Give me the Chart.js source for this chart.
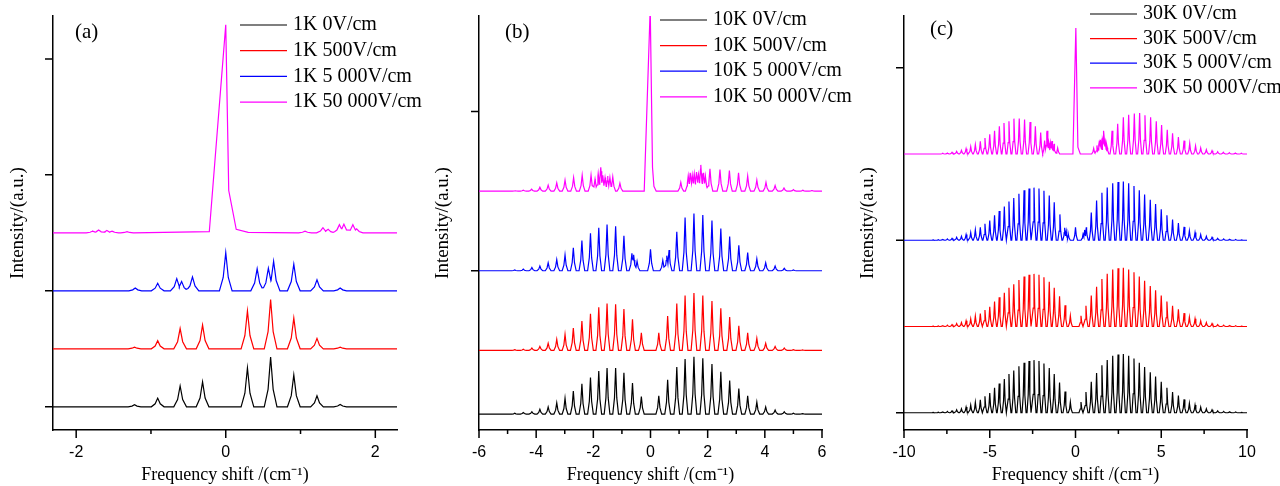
<!DOCTYPE html>
<html>
<head>
<meta charset="utf-8">
<script src="https://cdn.jsdelivr.net/npm/chart.js@4"></script>
<style>
html, body { margin: 0; padding: 0; background: #fff; }
#wrap { position: relative; width: 1280px; height: 486px; }
.panel { position: absolute; top: 0; height: 486px; }
</style>
</head>
<body>
<div id="wrap">
  <div class="panel" style="left:0;width:430px"><canvas id="chartA"></canvas></div>
  <div class="panel" style="left:430px;width:432px"><canvas id="chartB"></canvas></div>
  <div class="panel" style="left:850px;width:430px"><canvas id="chartC"></canvas></div>
</div>
<script>
const colors = ['#000000', '#ff0000', '#0000ff', '#ff00ff'];

// ---- (a) 1K ----
const aLabels = ['1K 0V/cm', '1K 500V/cm', '1K 5 000V/cm', '1K 50 000V/cm'];
const aPos = [-1.22, -0.91, -0.61, -0.31, 0.29, 0.6, 0.91, 1.22, 1.53];
const a0V = [0.035, 0.15, 0.36, 0.43, 0.67, 0.86, 0.55, 0.19, 0.04];
const a500 = [0.03, 0.14, 0.35, 0.41, 0.655, 0.85, 0.53, 0.18, 0.03];
const aPos5k = [-1.21, -0.91, -0.655, -0.59, -0.445, 0.0, 0.42, 0.57, 0.64, 0.91, 1.22, 1.53];
const a5k = [0.05, 0.13, 0.21, 0.16, 0.24, 0.66, 0.38, 0.39, 0.51, 0.46, 0.19, 0.05];
const aPos50k = [-1.78, -1.70, -1.59, -1.52, -1.32, 1.06, 1.30, 1.37, 1.52, 1.58, 1.70, 1.75];
const a50k = [0.03, 0.05, 0.04, 0.03, 0.02, 0.03, 0.09, 0.06, 0.14, 0.15, 0.14, 0.07];
const aCenterX = [-0.22, 0.0, 0.04, 0.14, 0.3];
const aCenterY = [0.02, 3.59, 0.73, 0.06, 0.01];
const aXTicks = [-2, 0, 2];
const aXMinor = [-1, 1];
const aYTicks = [0, 2, 4, 6];

// ---- (b) 10K ----
const bLabels = ['10K 0V/cm', '10K 500V/cm', '10K 5 000V/cm', '10K 50 000V/cm'];
const bPos = [-4.75, -4.45, -4.15, -3.87, -3.58, -3.28, -2.99, -2.7, -2.4, -2.1, -1.81, -1.52, -1.22, -0.93, -0.63, -0.32,
  0.29, 0.6, 0.92, 1.21, 1.52, 1.83, 2.15, 2.46, 2.77, 3.09, 3.4, 3.72, 4.03, 4.36, 4.68, 5.0, 5.32];
const b0V = [0.01, 0.02, 0.03, 0.06, 0.09, 0.14, 0.2, 0.29, 0.38, 0.46, 0.54, 0.58, 0.58, 0.52, 0.39, 0.22,
  0.23, 0.43, 0.59, 0.69, 0.72, 0.70, 0.63, 0.53, 0.42, 0.32, 0.23, 0.15, 0.09, 0.05, 0.03, 0.01, 0.005];
const b500 = [0.01, 0.015, 0.03, 0.05, 0.09, 0.14, 0.2, 0.28, 0.37, 0.46, 0.54, 0.59, 0.58, 0.52, 0.39, 0.22,
  0.22, 0.43, 0.59, 0.69, 0.72, 0.69, 0.62, 0.53, 0.42, 0.31, 0.22, 0.15, 0.09, 0.05, 0.03, 0.01, 0.005];
const bPos5k = [-4.75, -4.45, -4.15, -3.87, -3.58, -3.28, -2.99, -2.7, -2.4, -2.1, -1.81, -1.52, -1.22, -0.93, -0.65, -0.59, -0.47,
  0.0, 0.43, 0.57, 0.65, 0.92, 1.21, 1.52, 1.83, 2.15, 2.46, 2.77, 3.09, 3.4, 3.72, 4.03, 4.36, 4.68, 5.0];
const b5k = [0.01, 0.02, 0.04, 0.06, 0.1, 0.14, 0.2, 0.29, 0.38, 0.47, 0.54, 0.58, 0.56, 0.44, 0.22, 0.2, 0.12,
  0.27, 0.13, 0.19, 0.26, 0.49, 0.67, 0.72, 0.70, 0.63, 0.53, 0.43, 0.32, 0.23, 0.15, 0.1, 0.06, 0.03, 0.01];
const bPos50k = [-4.73, -4.45, -4.16, -3.87, -3.58, -3.28, -2.99, -2.69, -2.39, -2.08, -1.94, -1.83, -1.74, -1.67, -1.59, -1.5, -1.42, -1.32, -1.07,
  1.06, 1.32, 1.39, 1.46, 1.53, 1.61, 1.68, 1.76, 1.85, 1.92, 2.08, 2.43, 2.76, 3.08, 3.4, 3.72, 4.04, 4.36, 4.67, 5.0, 5.33, 5.65];
const b50k = [0.005, 0.013, 0.025, 0.05, 0.075, 0.105, 0.14, 0.17, 0.2, 0.2, 0.15, 0.22, 0.30, 0.2, 0.17, 0.19, 0.17, 0.18, 0.10,
  0.11, 0.19, 0.23, 0.2, 0.22, 0.24, 0.21, 0.33, 0.23, 0.19, 0.28, 0.27, 0.26, 0.23, 0.19, 0.14, 0.11, 0.07, 0.04, 0.02, 0.012, 0.008];
const bCenterX = [-0.22, -0.01, 0.07, 0.12, 0.2];
const bCenterY = [0, 2.3, 0.3, 0.06, 0];
const bXTicks = [-6, -4, -2, 0, 2, 4, 6];
const bXMinor = [-5, -3, -1, 1, 3, 5];
const bYTicks = [2, 4];

// ---- (c) 30K ----
const cLabels = ['30K 0V/cm', '30K 500V/cm', '30K 5 000V/cm', '30K 50 000V/cm'];
const cPos = [-8.3, -8.0, -7.74, -7.47, -7.2, -6.93, -6.65, -6.38, -6.11, -5.84, -5.55, -5.28, -5.0, -4.72, -4.45,
  -4.15, -3.88, -3.6, -3.3, -3.0, -2.71, -2.42, -2.13, -1.84, -1.53, -1.24, -0.93, -0.61, -0.30,
  0.32, 0.61, 0.92, 1.23, 1.54, 1.85, 2.17, 2.48, 2.79, 3.1, 3.41, 3.72, 4.03, 4.36, 4.67,
  5.0, 5.33, 5.66, 6.0, 6.33, 6.64, 6.97, 7.3, 7.63, 7.96, 8.29, 8.64, 8.99, 9.34, 9.69];
const c0V = [0.004, 0.006, 0.01, 0.015, 0.023, 0.035, 0.046, 0.066, 0.09, 0.12, 0.15, 0.19, 0.23, 0.29, 0.34,
  0.39, 0.45, 0.49, 0.54, 0.58, 0.60, 0.61, 0.60, 0.57, 0.52, 0.45, 0.35, 0.247, 0.124,
  0.124, 0.24, 0.36, 0.46, 0.55, 0.61, 0.66, 0.675, 0.68, 0.66, 0.63, 0.58, 0.53, 0.47, 0.42,
  0.36, 0.29, 0.24, 0.2, 0.155, 0.11, 0.09, 0.066, 0.046, 0.035, 0.023, 0.015, 0.012, 0.008, 0.005];
const c500 = [0.004, 0.006, 0.01, 0.015, 0.023, 0.035, 0.046, 0.066, 0.09, 0.12, 0.15, 0.19, 0.23, 0.29, 0.34,
  0.39, 0.45, 0.49, 0.54, 0.58, 0.60, 0.61, 0.60, 0.57, 0.52, 0.45, 0.35, 0.247, 0.124,
  0.124, 0.24, 0.36, 0.46, 0.55, 0.61, 0.66, 0.675, 0.68, 0.66, 0.63, 0.58, 0.53, 0.47, 0.42,
  0.36, 0.29, 0.24, 0.2, 0.155, 0.11, 0.09, 0.066, 0.046, 0.035, 0.023, 0.015, 0.012, 0.008, 0.005];
const cPos5k = [-8.3, -8.0, -7.74, -7.47, -7.2, -6.93, -6.65, -6.38, -6.11, -5.84, -5.55, -5.28, -5.0, -4.72, -4.45,
  -4.15, -3.88, -3.6, -3.3, -3.0, -2.71, -2.42, -2.13, -1.84, -1.53, -1.24, -0.91, -0.63, -0.54, -0.42,
  0.0, 0.44, 0.53, 0.63, 0.92, 1.23, 1.54, 1.85, 2.17, 2.48, 2.79, 3.1, 3.41, 3.72, 4.03, 4.36, 4.67,
  5.0, 5.33, 5.66, 6.0, 6.33, 6.64, 6.97, 7.3, 7.63, 7.96, 8.29, 8.64, 8.99, 9.34, 9.69];
const c5k = [0.004, 0.006, 0.01, 0.015, 0.023, 0.035, 0.046, 0.066, 0.09, 0.12, 0.15, 0.19, 0.23, 0.29, 0.34,
  0.39, 0.45, 0.49, 0.54, 0.58, 0.60, 0.61, 0.60, 0.575, 0.52, 0.44, 0.30, 0.145, 0.10, 0.07,
  0.15, 0.07, 0.12, 0.15, 0.32, 0.46, 0.55, 0.61, 0.66, 0.675, 0.68, 0.66, 0.63, 0.58, 0.53, 0.47, 0.42,
  0.36, 0.29, 0.24, 0.2, 0.155, 0.11, 0.09, 0.066, 0.046, 0.035, 0.023, 0.015, 0.012, 0.008, 0.005];
const cPos50k = [-7.74, -7.47, -7.2, -6.93, -6.65, -6.38, -6.11, -5.84, -5.55, -5.28, -5.0, -4.72, -4.44, -4.17,
  -3.88, -3.59, -3.28, -2.97, -2.65, -2.34, -2.03, -1.8, -1.66, -1.55, -1.45, -1.37, -1.25, -1.04,
  1.06, 1.25, 1.39, 1.45, 1.5, 1.6, 1.66, 1.74, 1.83, 2.13, 2.46, 2.79, 3.1, 3.43, 3.74, 4.05, 4.38,
  4.71, 5.02, 5.35, 5.66, 6.0, 6.33, 6.66, 7.0, 7.3, 7.63, 7.96, 8.29, 8.62, 8.97, 9.32, 9.67];
const c50k = [0.008, 0.012, 0.02, 0.031, 0.043, 0.062, 0.085, 0.11, 0.147, 0.185, 0.23, 0.27, 0.32, 0.36,
  0.38, 0.41, 0.41, 0.40, 0.37, 0.32, 0.25, 0.155, 0.27, 0.14, 0.13, 0.15, 0.12, 0.07,
  0.066, 0.1, 0.155, 0.166, 0.147, 0.17, 0.27, 0.135, 0.116, 0.27, 0.35, 0.425, 0.455, 0.47, 0.475, 0.45, 0.425,
  0.38, 0.336, 0.28, 0.24, 0.197, 0.155, 0.124, 0.093, 0.07, 0.05, 0.039, 0.027, 0.02, 0.015, 0.012, 0.008];
const cCenterX = [-0.15, 0.02, 0.14, 0.28];
const cCenterY = [0, 1.46, 0.08, 0];
const cXTicks = [-10, -5, 0, 5, 10];
const cXMinor = [-7.5, -2.5, 2.5, 7.5];
const cYTicks = [0, 2, 4];

// turn a peak list (position, height) into line vertices; g = peak half width
function spectrum(pos, hts, g, base, range, cx, cy) {
  const xs = [range[0], range[1]];
  pos.forEach(p => xs.push(p - 2.5 * g, p - g, p, p + g, p + 2.5 * g));
  if (cx) cx.forEach(v => xs.push(v));
  const uniq = [...new Set(xs.map(v => +v.toFixed(4)))]
    .filter(v => v >= range[0] && v <= range[1]).sort((m, n) => m - n);
  return uniq.map(x => {
    let y = 0;
    pos.forEach((p, i) => {
      const t = Math.abs(x - p);
      let v = 0;
      if (t <= g) v = hts[i] * (1 - 0.65 * t / g);
      else if (t < 2.5 * g) v = hts[i] * 0.35 * (2.5 * g - t) / (1.5 * g);
      if (v > y) y = v;
    });
    if (cx && x >= cx[0] && x <= cx[cx.length - 1]) {
      for (let k = 0; k < cx.length - 1; k++) {
        if (x >= cx[k] && x <= cx[k + 1]) {
          const v = cy[k] + (cy[k + 1] - cy[k]) * (x - cx[k]) / (cx[k + 1] - cx[k]);
          if (v > y) y = v;
          break;
        }
      }
    }
    return { x: x, y: base + y };
  });
}

function decor(cfg) {
  return {
    id: 'decor',
    afterDraw(chart) {
      const { ctx, chartArea: a, scales: { x, y } } = chart;
      ctx.save();
      ctx.strokeStyle = '#000';
      ctx.lineWidth = 1.5;
      ctx.beginPath();
      cfg.xTicks.forEach(v => { const px = x.getPixelForValue(v); ctx.moveTo(px, a.bottom); ctx.lineTo(px, a.bottom + 8); });
      cfg.xMinor.forEach(v => { const px = x.getPixelForValue(v); ctx.moveTo(px, a.bottom); ctx.lineTo(px, a.bottom + 4); });
      cfg.yTicks.forEach(v => { const py = y.getPixelForValue(v); ctx.moveTo(a.left - 8, py); ctx.lineTo(a.left, py); });
      ctx.stroke();

      ctx.fillStyle = '#000';
      ctx.textAlign = 'left';
      ctx.textBaseline = 'middle';
      ctx.font = '21px "Liberation Serif"';
      ctx.fillText(cfg.tag, a.left + cfg.tagDx, cfg.tagY);

      ctx.font = '20px "Liberation Serif"';
      chart.data.datasets.forEach((d, i) => {
        const yy = cfg.legY + i * cfg.legStep;
        ctx.strokeStyle = d.borderColor;
        ctx.lineWidth = 1.2;
        ctx.beginPath();
        ctx.moveTo(a.left + cfg.legDx, yy);
        ctx.lineTo(a.left + cfg.legDx + 47, yy);
        ctx.stroke();
        ctx.fillText(d.label, a.left + cfg.legDx + 53, yy);
      });
      ctx.restore();
    }
  };
}

function makeChart(id, cfg) {
  const datasets = cfg.series.map((s, i) => ({
    label: cfg.labels[i],
    data: spectrum(s[0], s[1], cfg.g, cfg.bases[i], cfg.xRange, s[2], s[3]),
    borderColor: colors[i],
    borderWidth: 1.2,
    pointRadius: 0,
    tension: 0,
    fill: false
  }));
  const serif = 'Liberation Serif';
  return new Chart(document.getElementById(id), {
    type: 'line',
    data: { datasets: datasets },
    options: {
      responsive: true,
      maintainAspectRatio: false,
      animation: false,
      events: [],
      layout: { padding: { top: 16, right: cfg.padRight, bottom: 0, left: 0 } },
      plugins: { legend: { display: false }, tooltip: { enabled: false } },
      scales: {
        x: {
          type: 'linear',
          min: cfg.xRange[0],
          max: cfg.xRange[1],
          afterBuildTicks: s => { s.ticks = cfg.xTicks.map(v => ({ value: v })); },
          grid: { display: false, drawTicks: true, tickLength: 13 },
          border: { display: true, color: '#000', width: 1.5 },
          ticks: {
            padding: 0, autoSkip: false, maxRotation: 0, color: '#000',
            font: { family: 'Liberation Sans', size: 16 },
            callback: v => String(v)
          },
          title: {
            display: true, text: 'Frequency shift /(cm\u207B\u00B9)', color: '#000',
            font: { family: serif, size: 18 }, padding: { top: 2.2, bottom: 0 }
          }
        },
        y: {
          type: 'linear',
          min: cfg.yRange[0],
          max: cfg.yRange[1],
          ticks: { display: false },
          grid: { display: false, drawTicks: true, tickLength: cfg.yTickLen },
          border: { display: true, color: '#000', width: 1.5 },
          title: {
            display: true, text: 'Intensity/(a.u.)', color: '#000',
            font: { family: serif, size: 19 }, padding: { top: cfg.yTitlePad, bottom: 0 }
          }
        }
      }
    },
    plugins: [decor(cfg)]
  });
}

makeChart('chartA', {
  labels: aLabels,
  series: [[aPos, a0V], [aPos, a500], [aPos5k, a5k], [aPos50k, a50k, aCenterX, aCenterY]],
  bases: [0, 1, 2, 3], g: 0.034,
  xRange: [-2.31, 2.29], yRange: [-0.4, 6.74],
  xTicks: aXTicks, xMinor: aXMinor, yTicks: aYTicks,
  padRight: 33, yTickLen: 23.6, yTitlePad: 6.6,
  tag: '(a)', tagDx: 22, tagY: 32,
  legDx: 187, legY: 25, legStep: 25.7
});

makeChart('chartB', {
  labels: bLabels,
  series: [[bPos, b0V], [bPos, b500], [bPos5k, b5k], [bPos50k, b50k, bCenterX, bCenterY]],
  bases: [0.2, 1, 2, 3], g: 0.04,
  xRange: [-6, 6], yRange: [0, 5.2],
  xTicks: bXTicks, xMinor: bXMinor, yTicks: bYTicks,
  padRight: 40, yTickLen: 24.6, yTitlePad: 1.6,
  tag: '(b)', tagDx: 26, tagY: 32,
  legDx: 181, legY: 20, legStep: 25.6
});

makeChart('chartC', {
  labels: cLabels,
  series: [[cPos, c0V], [cPos, c500], [cPos5k, c5k], [cPos50k, c50k, cCenterX, cCenterY]],
  bases: [0, 1, 2, 3], g: 0.047,
  xRange: [-10, 10], yRange: [-0.2, 4.6],
  xTicks: cXTicks, xMinor: cXMinor, yTicks: cYTicks,
  padRight: 33, yTickLen: 24.6, yTitlePad: 6.6,
  tag: '(c)', tagDx: 26, tagY: 29,
  legDx: 186, legY: 14, legStep: 24.6
});
</script>
</body>
</html>
